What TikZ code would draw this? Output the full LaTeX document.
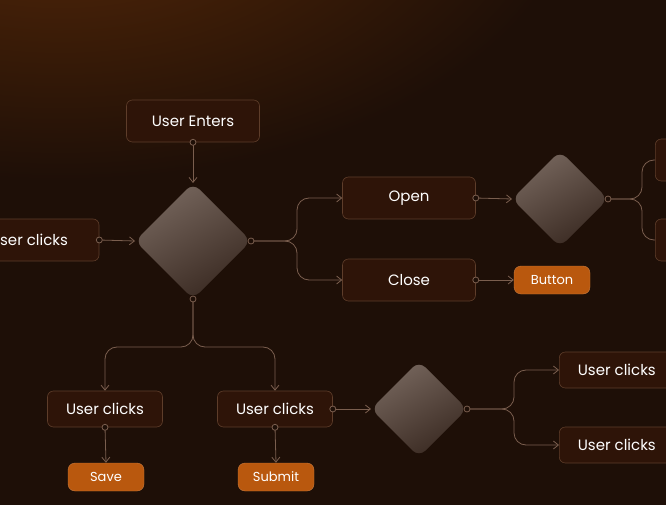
\documentclass[tikz,border=0pt]{standalone}
\usepackage{fontspec}
\setmainfont{Poppins}
\usetikzlibrary{arrows.meta}
\definecolor{bg}{HTML}{1E0F07}
\definecolor{boxf}{HTML}{2E1408}
\definecolor{boxd}{HTML}{5E3D2A}
\definecolor{lin}{HTML}{7A5E4E}
\definecolor{org}{HTML}{B9580E}
\definecolor{glow}{HTML}{5A2A08}
\definecolor{dtop}{HTML}{75655C}
\definecolor{dbot}{HTML}{3A2A22}
\tikzset{
 x=1pt,y=-1pt,
 box/.style={draw=boxd,fill=boxf,rounded corners=6pt,minimum width=133pt,minimum height=42pt,text=white,font=\fontsize{15}{15}\selectfont,line width=0.6pt},
 sbox/.style={box,minimum width=115pt,minimum height=36pt},
 btn/.style={draw=org!80!white,fill=org,rounded corners=7pt,minimum width=76pt,minimum height=28pt,text=white,font=\fontsize{13}{13}\selectfont},
 conn/.style={draw=lin,line width=0.8pt},
 arr/.style={conn,-{Straight Barb[length=5pt,width=8pt]}},
 dot/.style={circle,draw=lin,fill=bg,line width=0.8pt,inner sep=0pt,minimum size=6pt},
}
\newcommand{\dia}[3]{%
 \shade[top color=dtop,bottom color=dbot,shading angle=30,rounded corners=9pt]
 (#1,#2-#3) -- (#1+#3,#2) -- (#1,#2+#3) -- (#1-#3,#2) -- cycle;}
\begin{document}
\begin{tikzpicture}
\useasboundingbox (0,0) rectangle (666,505);
\clip (0,0) rectangle (666,505);
\fill[bg] (0,0) rectangle (666,505);
\shade[inner color=glow,outer color=bg] (60,-120) ellipse (520 and 300);
% diamonds
\dia{193}{241}{58}
\dia{560}{199}{48}
\dia{419}{409}{48}
\coordinate (d1t) at (193,183); \coordinate (d1l) at (135,241);
\coordinate (d1r) at (251,241); \coordinate (d1b) at (193,299);
\coordinate (d2l) at (512,199); \coordinate (d2r) at (608,199);
\coordinate (d3l) at (371,409); \coordinate (d3r) at (467,409);
% boxes
\node[box] (ue) at (193,121) {User Enters};
\node[box,minimum width=140pt] (uc0) at (29,240) {User clicks};
\node[box] (open) at (409,198) {Open};
\node[box] (close) at (409,280) {Close};
\node[btn] (button) at (552,280) {Button};
\node[sbox] (uc1) at (105,409) {User clicks};
\node[sbox] (uc2) at (275,409) {User clicks};
\node[btn] (save) at (106,477) {Save};
\node[btn] (submit) at (276,477) {Submit};
\node[sbox,anchor=west] (uc3) at (559,370) {User clicks};
\node[sbox,anchor=west] (uc4) at (559,445) {User clicks};
\node[box,anchor=west,minimum width=60pt] (r1) at (655,160) {};
\node[box,anchor=west,minimum width=60pt] (r2) at (655,240) {};
% connectors
\draw[arr] (ue.south) -- (d1t);
\draw[arr] (uc0.east) -- (d1l);
\draw[arr] (d1r) -- (285,241) to[out=0,in=-90] (297,229) -- (297,210) to[out=90,in=180] (309,198) -- (open.west);
\draw[arr] (d1r) -- (285,241) to[out=0,in=90] (297,253) -- (297,268) to[out=-90,in=180] (309,280) -- (close.west);
\draw[arr] (open.east) -- (d2l);
\draw[arr] (close.east) -- (button.west);
\draw[conn] (d2r) -- (630,199) to[out=0,in=-90] (642,187) -- (642,172) to[out=90,in=180] (654,160) -- (r1.west);
\draw[conn] (d2r) -- (630,199) to[out=0,in=90] (642,211) -- (642,228) to[out=-90,in=180] (654,240) -- (r2.west);
\draw[arr] (d1b) -- (193,335) to[out=-90,in=0] (181,347) -- (117,347) to[out=180,in=90] (105,359) -- (uc1.north);
\draw[arr] (d1b) -- (193,335) to[out=-90,in=180] (205,347) -- (263,347) to[out=0,in=90] (275,359) -- (uc2.north);
\draw[arr] (uc1.south) -- (save.north);
\draw[arr] (uc2.south) -- (submit.north);
\draw[arr] (uc2.east) -- (d3l);
\draw[arr] (d3r) -- (502,409) to[out=0,in=-90] (514,397) -- (514,382) to[out=90,in=180] (526,370) -- (uc3.west);
\draw[arr] (d3r) -- (502,409) to[out=0,in=90] (514,421) -- (514,433) to[out=-90,in=180] (526,445) -- (uc4.west);
% dots
\foreach \p in {ue.south,uc0.east,d1r,d1b,open.east,close.east,d2r,uc1.south,uc2.south,uc2.east,d3r}
  \node[dot] at (\p) {};
\end{tikzpicture}
\end{document}
